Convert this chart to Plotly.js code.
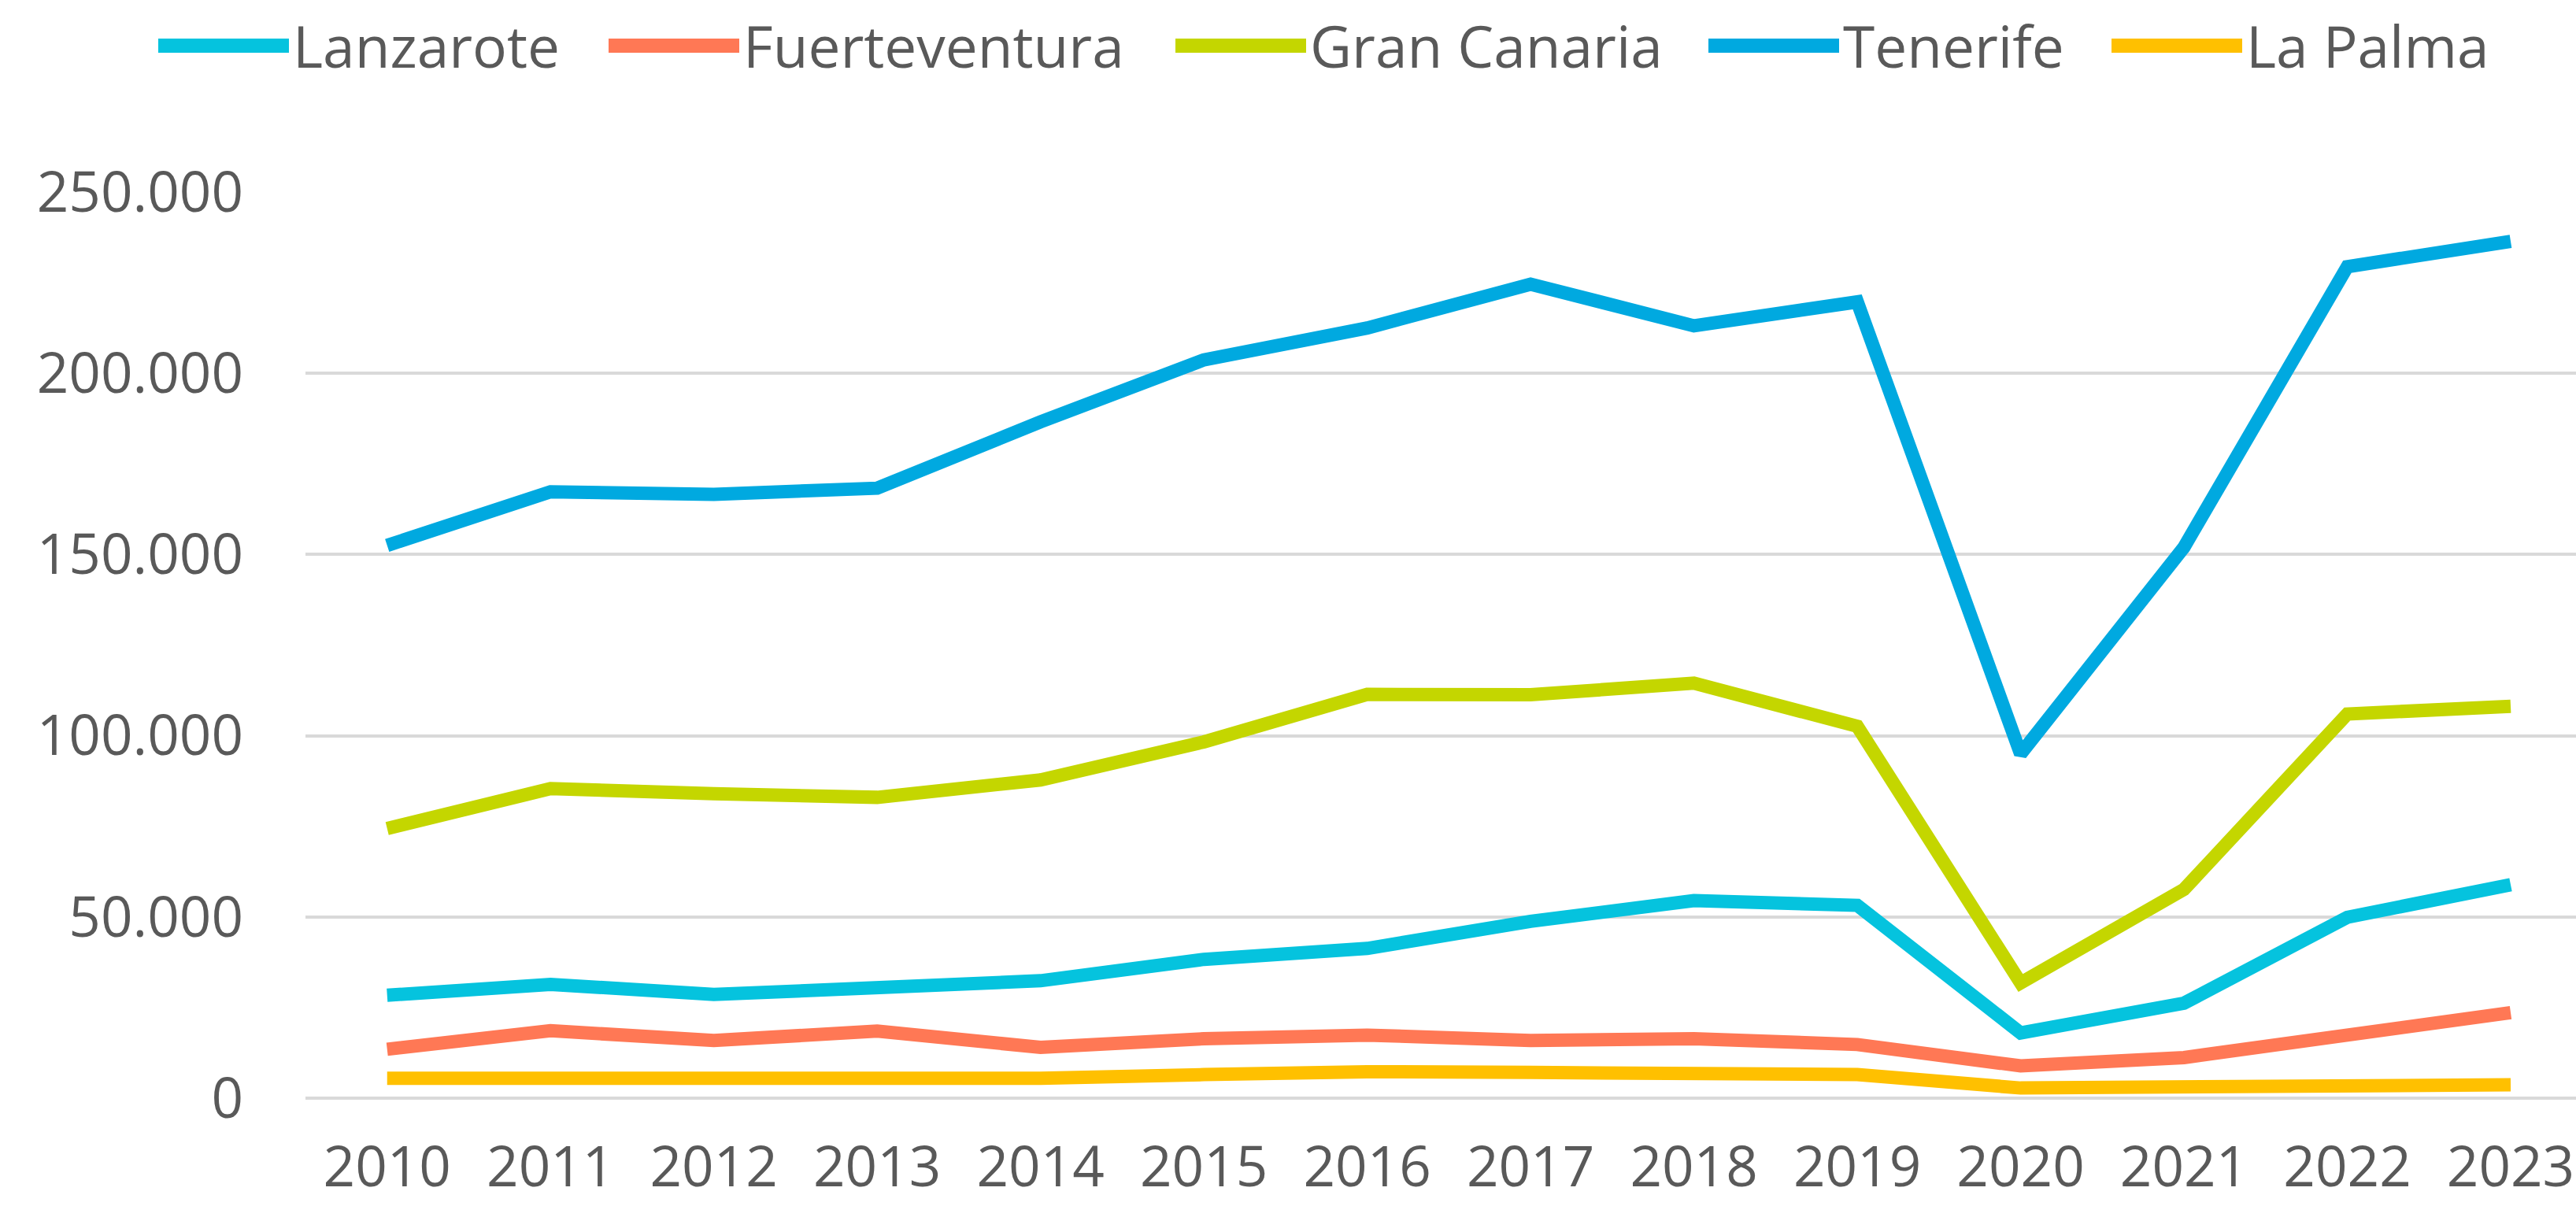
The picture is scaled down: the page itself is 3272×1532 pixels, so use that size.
<!DOCTYPE html>
<html>
<head>
<meta charset="utf-8">
<script src="https://cdn.plot.ly/plotly-3.0.1.min.js"></script>
<style>
  html, body { margin: 0; padding: 0; background: #ffffff; }
  #chart { width: 3272px; height: 1532px; }
  #chart .legendlines path { stroke-width: 18px !important; stroke-linecap: butt; }
</style>
</head>
<body>
<div id="chart"></div>
<script>
const years = ['2010','2011','2012','2013','2014','2015','2016','2017','2018','2019','2020','2021','2022','2023'];
const seriesNames = ['Lanzarote', 'Fuerteventura', 'Gran Canaria', 'Tenerife', 'La Palma'];
const lanzarote     = [28400, 31400, 28600, 30700, 32400, 38300, 41300, 48800, 54500, 53200, 18000, 26200, 49900, 58900];
const fuerteventura = [13500, 18600, 15900, 18500, 14000, 16400, 17400, 15900, 16400, 14800,  8900, 11200, 17400, 23600];
const granCanaria   = [74400, 85400, 84000, 83000, 87800, 98300, 111400, 111300, 114500, 102600, 31800, 57600, 106000, 108100];
const tenerife      = [152500, 167300, 166600, 168300, 186600, 203700, 212500, 224600, 213100, 219700, 95000, 152000, 229400, 236400];
const laPalma       = [5500, 5500, 5500, 5500, 5500, 6500, 7300, 7100, 6600, 6500, 2800, 2900, 3600, 3700];
const yTickVals = [0, 50000, 100000, 150000, 200000, 250000];

const colors = ['#05C3DE', '#FF7855', '#C4D600', '#00A9E0', '#FFC000'];
const values = [lanzarote, fuerteventura, granCanaria, tenerife, laPalma];
const legendIds = ['legend', 'legend2', 'legend3', 'legend4', 'legend5'];
const legendX = [196, 768, 1488, 2165, 2677];

const W = 3272, H = 1532;
const FONT = '"Open Sans", "Noto Sans", sans-serif';
const TXT = '#595959';

const traces = seriesNames.map((name, i) => ({
  type: 'scatter',
  mode: 'lines',
  name: name,
  x: years,
  y: values[i],
  line: { color: colors[i], width: 17, shape: 'linear' },
  legend: legendIds[i],
  hoverinfo: 'skip'
}));

const layout = {
  width: W,
  height: H,
  paper_bgcolor: '#ffffff',
  plot_bgcolor: '#ffffff',
  separators: ',.',
  margin: { l: 388, r: 0, t: 244, b: 136.5, pad: 0 },
  font: { family: FONT, size: 71, color: TXT },
  showlegend: true,
  xaxis: {
    type: 'category',
    range: [-0.5, 13.4],
    showgrid: false,
    zeroline: false,
    showline: false,
    ticks: '',
    ticklabelstandoff: 40,
    tickfont: { family: FONT, size: 71, color: TXT },
    fixedrange: true
  },
  yaxis: {
    range: [0, 250000],
    tickvals: yTickVals,
    tickformat: ',d',
    showgrid: true,
    gridcolor: '#D9D9D9',
    gridwidth: 4,
    zeroline: true,
    zerolinecolor: '#D9D9D9',
    zerolinewidth: 4,
    showline: false,
    ticks: '',
    ticklabelstandoff: 78,
    tickfont: { family: FONT, size: 71, color: TXT },
    fixedrange: true
  }
};

legendIds.forEach((id, i) => {
  layout[id] = {
    orientation: 'h',
    xref: 'container',
    yref: 'container',
    x: legendX[i] / W,
    xanchor: 'left',
    y: 1 - 58 / H,
    yanchor: 'middle',
    bgcolor: 'rgba(0,0,0,0)',
    borderwidth: 0,
    itemwidth: 166,
    font: { family: FONT, size: 73, color: TXT }
  };
});

Plotly.newPlot('chart', traces, layout, { displayModeBar: false, staticPlot: true });
</script>
</body>
</html>
